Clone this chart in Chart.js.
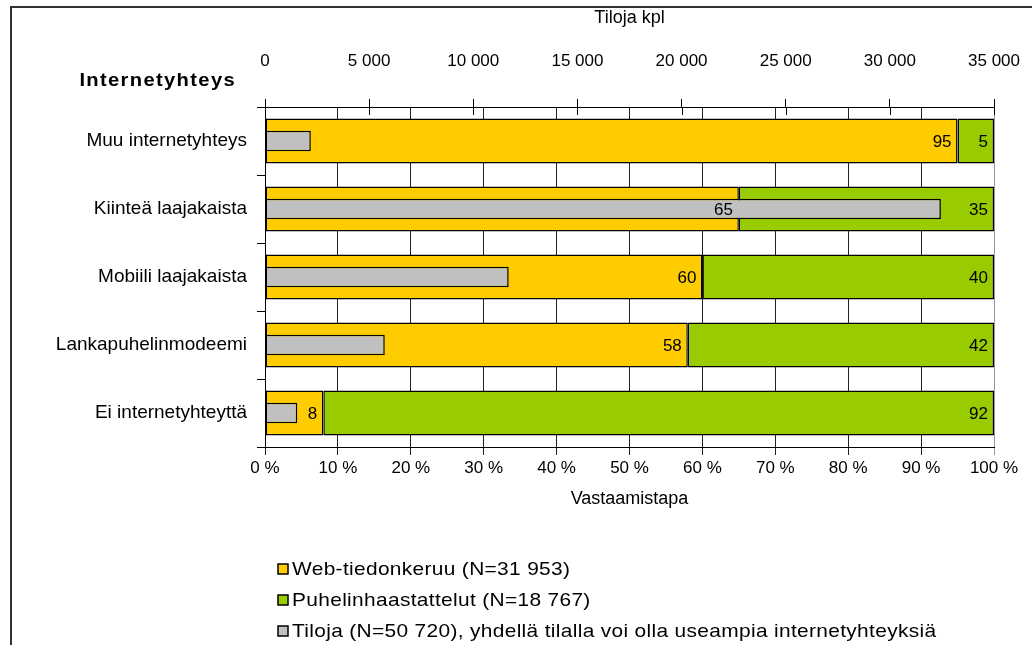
<!DOCTYPE html>
<html>
<head>
<meta charset="utf-8">
<title>Internetyhteys ja vastaamistapa</title>
<script src="https://cdn.jsdelivr.net/npm/chart.js@4/dist/chart.umd.min.js"></script>
<style>
  html, body { margin: 0; padding: 0; background: #fff; }
  #wrap { width: 1032px; height: 645px; position: relative; overflow: hidden; }
  canvas { display: block; }
</style>
</head>
<body>
<div id="wrap"><canvas id="chart" width="1032" height="645"></canvas></div>
<script>
// Internet connection types
const categories = [
  'Muu internetyhteys',
  'Kiinteä laajakaista',
  'Mobiili laajakaista',
  'Lankapuhelinmodeemi',
  'Ei internetyhteyttä'
];

// Share of answers by response method, %
const webShare = [95, 65, 60, 58, 8];
const phoneShare = [5, 35, 40, 42, 92];

// Number of farms per connection type
const farmCounts = [2200, 32450, 11700, 5750, 1550];

const seriesNames = [
  'Web-tiedonkeruu (N=31 953)',
  'Puhelinhaastattelut (N=18 767)',
  'Tiloja (N=50 720), yhdellä tilalla voi olla useampia internetyhteyksiä'
];

const axisTitleTop = 'Tiloja kpl';
const axisTitleBottom = 'Vastaamistapa';
const categoryTitle = 'Internetyhteys';

const FONT = "'Liberation Sans', Arial, Helvetica, sans-serif";
Chart.defaults.font.family = FONT;
Chart.defaults.color = '#000';

const fmtThousands = v => String(v).replace(/\B(?=(\d{3})+(?!\d))/g, ' ');

// Frame around the figure
const framePlugin = {
  id: 'frame',
  beforeDraw(chart) {
    const ctx = chart.ctx;
    ctx.save();
    ctx.fillStyle = '#fff';
    ctx.fillRect(0, 0, chart.width, chart.height);
    ctx.strokeStyle = '#333';
    ctx.lineWidth = 2;
    ctx.strokeRect(11, 7, chart.width + 20, chart.height + 20);
    ctx.restore();
  }
};

// Tick marks of the top axis cross the axis line
const crossTicksPlugin = {
  id: 'crossTicks',
  afterDraw(chart) {
    const s = chart.scales.x2;
    const ctx = chart.ctx;
    ctx.save();
    ctx.strokeStyle = '#000';
    ctx.lineWidth = 1;
    s.ticks.forEach(t => {
      const px = Math.round(s.getPixelForValue(t.value)) + 0.5;
      ctx.beginPath();
      ctx.moveTo(px, s.bottom);
      ctx.lineTo(px, s.bottom + 8);
      ctx.stroke();
    });
    ctx.restore();
  }
};

// Value labels at the inner end of each percentage segment
const valueLabelsPlugin = {
  id: 'valueLabels',
  afterDatasetsDraw(chart) {
    const ctx = chart.ctx;
    ctx.save();
    ctx.font = '17px ' + FONT;
    ctx.fillStyle = '#000';
    ctx.textAlign = 'right';
    ctx.textBaseline = 'middle';
    [0, 1].forEach(di => {
      const meta = chart.getDatasetMeta(di);
      meta.data.forEach((bar, i) => {
        const v = chart.data.datasets[di].data[i];
        ctx.fillText(String(v), bar.x - 6, bar.y + 1);
      });
    });
    ctx.restore();
  }
};

// Draws text stretched horizontally, anchored at its left edge
function wideText(ctx, text, x, y, sx) {
  ctx.save();
  ctx.translate(x, y);
  ctx.scale(sx, 1);
  ctx.fillText(text, 0, 0);
  ctx.restore();
}

// Category axis heading and the vertical legend below the axis
const textPlugin = {
  id: 'extraText',
  afterDraw(chart) {
    const ctx = chart.ctx;
    ctx.save();
    ctx.fillStyle = '#000';
    ctx.textAlign = 'left';
    ctx.textBaseline = 'middle';

    ctx.font = 'bold 18px ' + FONT;
    ctx.letterSpacing = '1.2px';
    const sxHead = 1.12;
    const w = ctx.measureText(categoryTitle).width * sxHead;
    wideText(ctx, categoryTitle, 236 - w, 81, sxHead);

    ctx.font = '19px ' + FONT;
    ctx.letterSpacing = '0.3px';
    const rows = [569, 600, 631];
    chart.data.datasets.forEach((ds, i) => {
      const y = rows[i];
      ctx.fillStyle = ds.backgroundColor;
      ctx.fillRect(278, y - 5, 10, 10);
      ctx.strokeStyle = '#000';
      ctx.lineWidth = 1.5;
      ctx.strokeRect(278, y - 5, 10, 10);
      ctx.fillStyle = '#000';
      wideText(ctx, ds.label, 292, y + 1, 1.1);
    });
    ctx.restore();
  }
};

const barCommon = {
  borderColor: '#000',
  borderWidth: 1.5,
  borderSkipped: false,
  grouped: false,
  categoryPercentage: 1
};

// Horizontal axes keep the plot edges fixed; label overflow fits in the layout padding
const noSidePadding = s => { s.paddingLeft = 0; s.paddingRight = 0; };

new Chart(document.getElementById('chart'), {
  type: 'bar',
  data: {
    labels: categories,
    datasets: [
      Object.assign({
        label: seriesNames[0],
        data: webShare,
        xAxisID: 'x',
        stack: 'share',
        backgroundColor: '#FFCC00',
        barPercentage: 0.665,
        order: 1
      }, barCommon),
      Object.assign({
        label: seriesNames[1],
        data: phoneShare,
        xAxisID: 'x',
        stack: 'share',
        backgroundColor: '#99CC00',
        barPercentage: 0.665,
        order: 1
      }, barCommon),
      Object.assign({
        label: seriesNames[2],
        data: farmCounts,
        xAxisID: 'x2',
        stack: 'farms',
        backgroundColor: '#C0C0C0',
        barPercentage: 0.3,
        order: 0
      }, barCommon)
    ]
  },
  options: {
    indexAxis: 'y',
    responsive: false,
    animation: false,
    devicePixelRatio: 1,
    layout: { padding: { top: 0, left: 0, right: 38, bottom: 135 } },
    plugins: {
      legend: { display: false },
      tooltip: { enabled: false }
    },
    scales: {
      y: {
        type: 'category',
        stacked: false,
        grid: { drawOnChartArea: false, offset: true, tickLength: 8, color: '#000' },
        border: { color: '#000', width: 1 },
        ticks: { font: { size: 19 }, color: '#000', padding: 10 },
        afterFit(s) { s.width = 265; }
      },
      x: {
        position: 'bottom',
        stacked: true,
        min: 0,
        max: 100,
        ticks: {
          stepSize: 10,
          font: { size: 17 },
          color: '#000',
          padding: 3,
          maxRotation: 0,
          callback: v => v + ' %'
        },
        grid: {
          drawOnChartArea: true,
          tickLength: 8,
          color: ctx => (ctx.tick && ctx.tick.value === 100 ? '#999' : '#222')
        },
        border: { color: '#000', width: 1 },
        title: {
          display: true,
          text: axisTitleBottom,
          font: { size: 18 },
          color: '#000',
          padding: { top: 0, bottom: 0 }
        },
        afterFit(s) { s.height = 63; noSidePadding(s); }
      },
      x2: {
        position: 'top',
        stacked: false,
        min: 0,
        max: 35000,
        ticks: {
          stepSize: 5000,
          font: { size: 17 },
          color: '#000',
          padding: 27,
          maxRotation: 0,
          callback: v => fmtThousands(v)
        },
        grid: { drawOnChartArea: false, tickLength: 8, color: '#000' },
        border: { color: '#000', width: 1 },
        title: {
          display: true,
          text: axisTitleTop,
          font: { size: 18 },
          color: '#000',
          padding: { top: 7, bottom: 0 }
        },
        afterFit(s) { s.height = 107; noSidePadding(s); }
      }
    }
  },
  plugins: [framePlugin, crossTicksPlugin, valueLabelsPlugin, textPlugin]
});
</script>
</body>
</html>
